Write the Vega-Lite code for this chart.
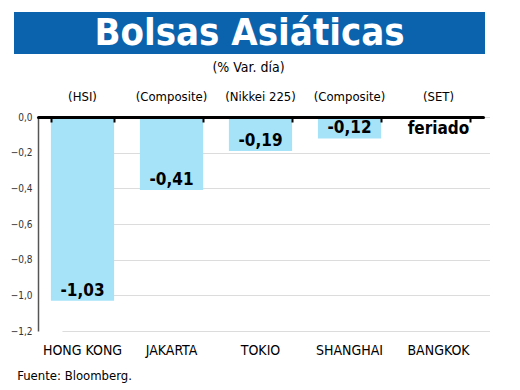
{
  "$schema": "https://vega.github.io/schema/vega-lite/v6.json",
  "background": "white",
  "padding": {"left": 10, "top": 12, "right": 5, "bottom": 5},
  "config": {
    "view": {"stroke": null},
    "font": "DejaVu Sans Condensed, sans-serif",
    "axisY": {
      "title": null,
      "offset": -24,
      "labelOverlap": false,
      "grid": true,
      "gridColor": "#dcdcdc",
      "gridWidth": 1.2,
      "domainColor": "#555555",
      "domainWidth": 1.5,
      "ticks": false,
      "labelFontSize": 10,
      "labelColor": "#333333",
      "labelPadding": 6
    }
  },
  "title": {
    "text": "Fuente: Bloomberg.",
    "orient": "bottom",
    "anchor": "start",
    "fontSize": 13,
    "fontWeight": "normal",
    "color": "black",
    "offset": 12,
    "dx": 7,
    "font": "DejaVu Sans Condensed, sans-serif"
  },
  "spacing": 7,
  "vconcat": [
    {
      "width": 471,
      "height": 42,
      "view": {"fill": "#0b63ae", "stroke": null},
      "data": {"values": [{"t": "Bolsas Asiáticas"}]},
      "mark": {
        "type": "text",
        "color": "white",
        "fontSize": 38,
        "fontWeight": "bold",
        "baseline": "middle",
        "dy": 1,
        "font": "DejaVu Sans Condensed, sans-serif"
      },
      "encoding": {"text": {"field": "t"}}
    },
    {
      "width": 469,
      "height": 214,
      "title": {
        "text": "(% Var. día)",
        "fontSize": 14,
        "fontWeight": "normal",
        "color": "black",
        "offset": 16,
        "font": "DejaVu Sans Condensed, sans-serif"
      },
      "data": {
        "values": [
          {"mercado": "HONG KONG", "indice": "(HSI)", "var": -1.03, "etiqueta": "-1,03"},
          {"mercado": "JAKARTA", "indice": "(Composite)", "var": -0.41, "etiqueta": "-0,41"},
          {"mercado": "TOKIO", "indice": "(Nikkei 225)", "var": -0.19, "etiqueta": "-0,19"},
          {"mercado": "SHANGHAI", "indice": "(Composite)", "var": -0.12, "etiqueta": "-0,12"},
          {"mercado": "BANGKOK", "indice": "(SET)", "var": null, "etiqueta": "feriado"}
        ]
      },
      "encoding": {
        "x": {
          "field": "mercado",
          "type": "nominal",
          "sort": null,
          "scale": {"paddingInner": 0.29, "paddingOuter": 0.145, "range": [24, 469]},
          "axis": {
            "orient": "top",
            "title": null,
            "labels": false,
            "tickBand": "extent",
            "domainColor": "black",
            "domainWidth": 3,
            "domainCap": "round",
            "tickColor": "black",
            "tickWidth": 2,
            "tickSize": -5,
            "grid": false,
            "zindex": 2
          }
        }
      },
      "layer": [
        {
          "mark": {"type": "bar", "color": "#a7e3f8"},
          "encoding": {
            "y": {
              "field": "var",
              "type": "quantitative",
              "scale": {"domain": [-1.2, 0], "nice": false},
              "axis": {
                "values": [0, -0.2, -0.4, -0.6, -0.8, -1.0, -1.2],
                "labelExpr": "replace(format(datum.value, '.1f'), '.', ',')"
              }
            }
          }
        },
        {
          "transform": [{"filter": "datum['var'] != null"}],
          "mark": {"type": "text", "fontSize": 17, "fontWeight": "bold", "color": "black", "baseline": "alphabetic", "dy": -5},
          "encoding": {
            "y": {
              "field": "var",
              "type": "quantitative",
              "axis": {
                "values": [0, -0.2, -0.4, -0.6, -0.8, -1.0, -1.2],
                "labelExpr": "replace(format(datum.value, '.1f'), '.', ',')"
              }
            },
            "text": {"field": "etiqueta"}
          }
        },
        {
          "transform": [{"filter": "datum['var'] == null"}],
          "mark": {"type": "text", "fontSize": 17, "fontWeight": "bold", "color": "black", "baseline": "middle", "dy": 12},
          "encoding": {
            "y": {
              "datum": 0,
              "axis": {
                "values": [0, -0.2, -0.4, -0.6, -0.8, -1.0, -1.2],
                "labelExpr": "replace(format(datum.value, '.1f'), '.', ',')"
              }
            },
            "text": {"field": "etiqueta"}
          }
        },
        {
          "mark": {"type": "text", "fontSize": 13, "color": "black", "baseline": "middle", "dy": -20},
          "encoding": {
            "y": {
              "datum": 0,
              "axis": {
                "values": [0, -0.2, -0.4, -0.6, -0.8, -1.0, -1.2],
                "labelExpr": "replace(format(datum.value, '.1f'), '.', ',')"
              }
            },
            "text": {"field": "indice"}
          }
        },
        {
          "mark": {"type": "text", "fontSize": 14, "color": "black", "baseline": "middle", "dy": 20},
          "encoding": {
            "y": {
              "datum": -1.2,
              "axis": {
                "values": [0, -0.2, -0.4, -0.6, -0.8, -1.0, -1.2],
                "labelExpr": "replace(format(datum.value, '.1f'), '.', ',')"
              }
            },
            "text": {"field": "mercado"}
          }
        }
      ]
    }
  ]
}
